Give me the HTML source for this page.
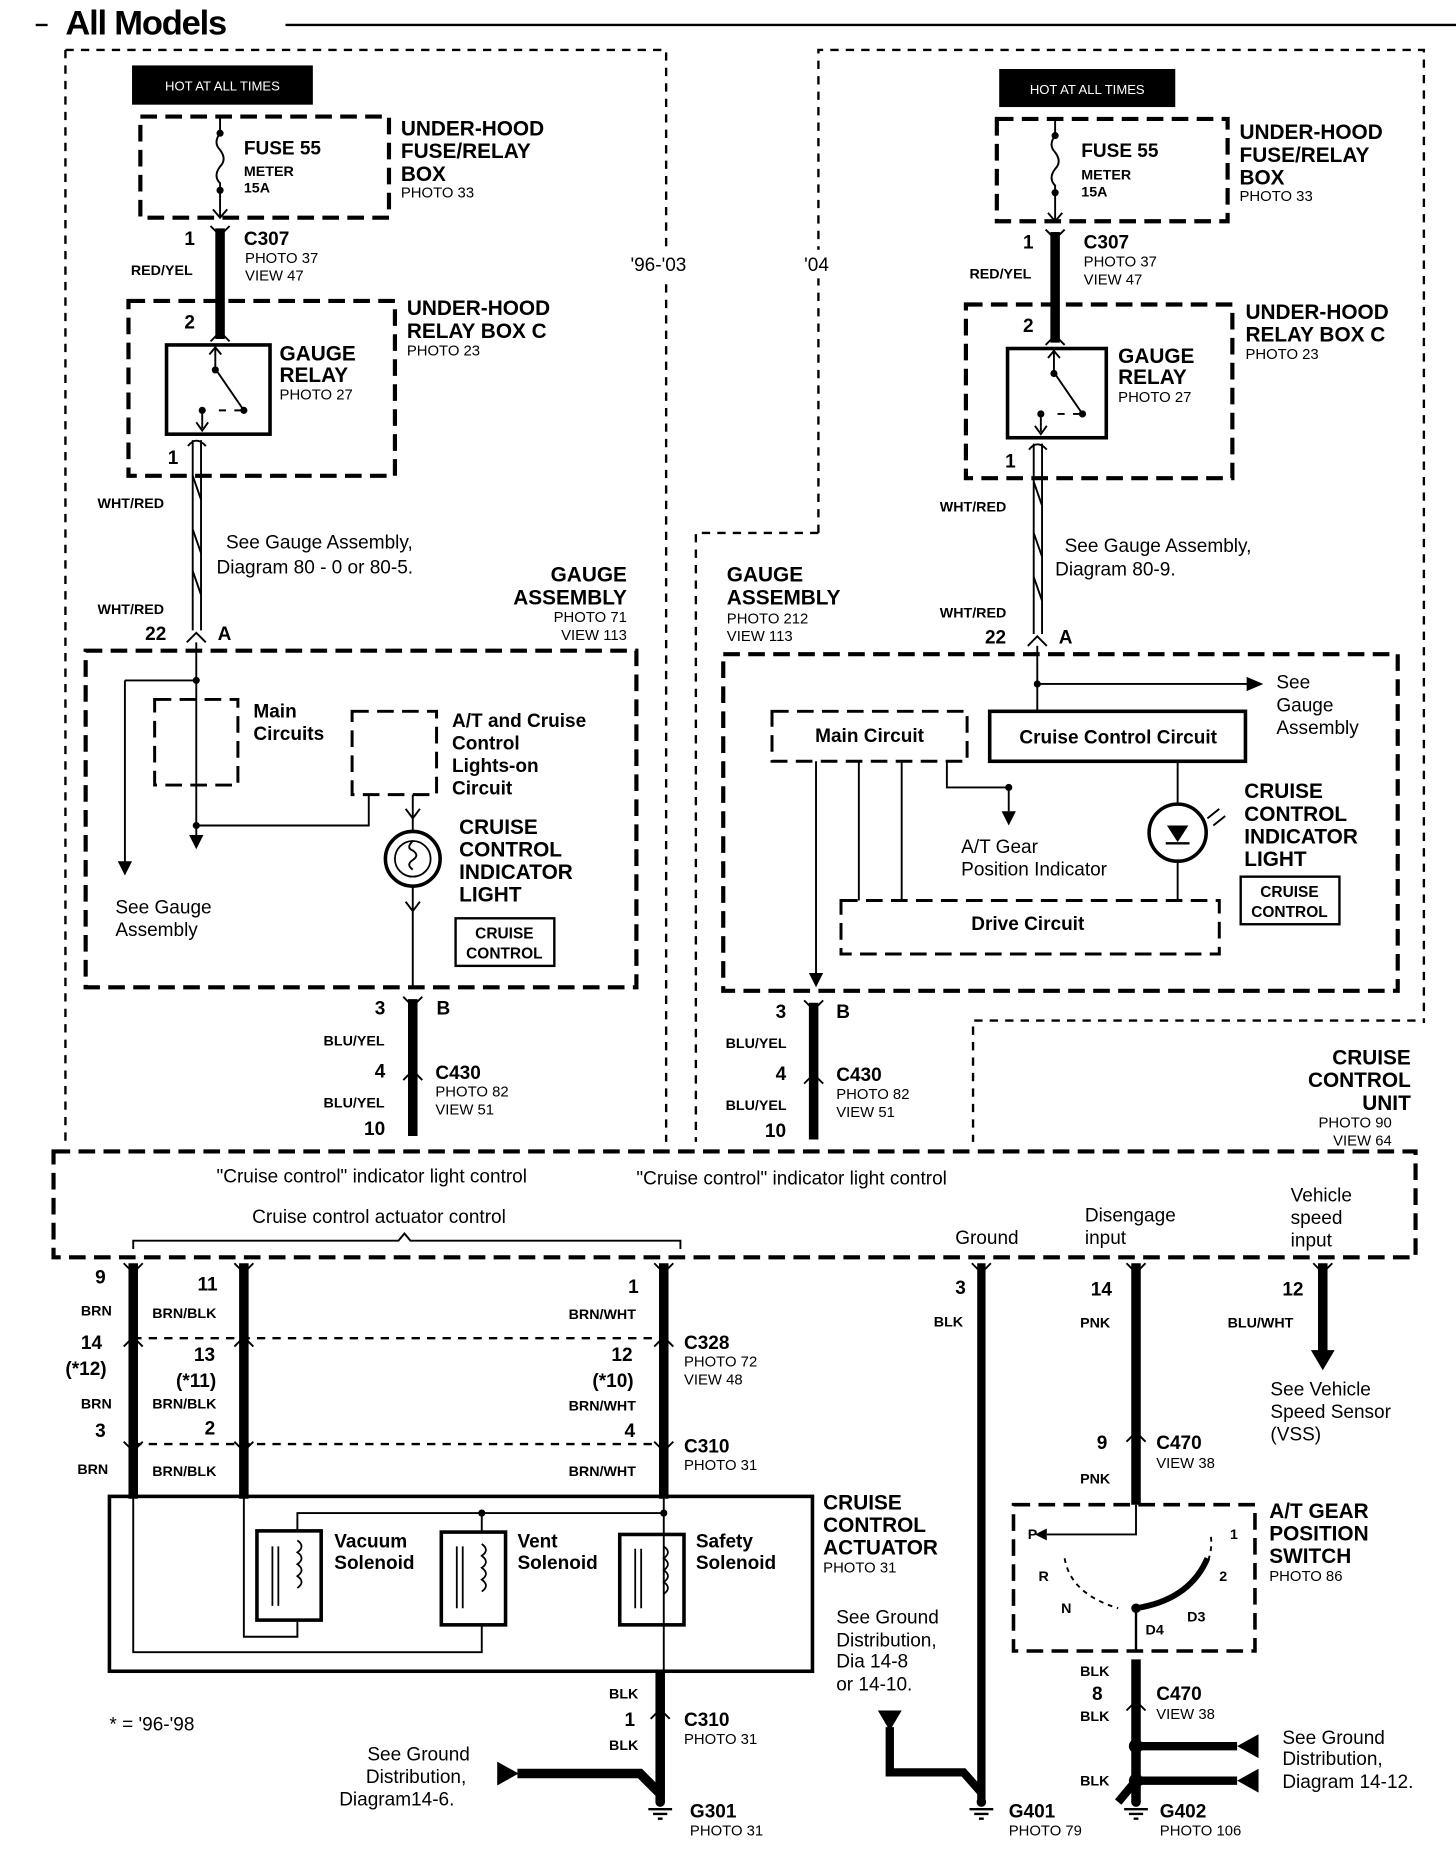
<!DOCTYPE html>
<html><head><meta charset="utf-8"><style>
html,body{margin:0;padding:0;background:#fff}
svg{display:block}
text{font-family:"Liberation Sans",Arial,sans-serif;fill:#000}
.b{font-weight:bold}
.s{font-size:12.5px}
.m{font-size:16px}
.l{font-size:17.5px;font-weight:bold}
.w{font-size:12px;font-weight:bold}
.n{font-size:16px;font-weight:bold}
.d{fill:none;stroke:#000;stroke-width:2;stroke-dasharray:7 6}
.D{fill:none;stroke:#000;stroke-width:3.5;stroke-dasharray:14 7}
.t{fill:none;stroke:#000;stroke-width:1.6}
.W{fill:none;stroke:#000;stroke-width:8}
</style></head><body>
<svg width="1456" height="1858" viewBox="0 0 1224 1562" preserveAspectRatio="none" xmlns="http://www.w3.org/2000/svg">
<rect width="1224" height="1562" fill="#fff"/>
<line x1="30" y1="21" x2="40" y2="21" stroke="#000" stroke-width="2"/>
<text x="55" y="29" style="font-size:29px;font-weight:bold;letter-spacing:-1px">All Models</text>
<line x1="240" y1="21" x2="1224" y2="21" stroke="#000" stroke-width="2"/>

<path class="d" d="M55 42 H560 V960 M55 42 V960"/>
<path class="d" d="M688 448 V42 H1197 V860 M688 448 H585 V960 M1190 858 H818 V960"/>
<rect x="528" y="210" width="62" height="24" fill="#fff"/>
<rect x="674" y="210" width="30" height="24" fill="#fff"/>
<text x="530" y="228" class="m">'96-'03</text>
<text x="676" y="228" class="m">'04</text>

<rect x="111" y="55" width="152" height="33" fill="#000"/>
<text x="187" y="76" text-anchor="middle" style="font-size:11px;fill:#fff">HOT AT ALL TIMES</text>
<rect class="D" x="118" y="98" width="209" height="85"/>
<path class="t" d="M185 98 V112 q-6 8 0 14 q6 8 0 14 q-6 8 0 14 V183"/>
<circle cx="185" cy="112" r="3"/><circle cx="185" cy="160" r="3"/>
<path class="t" d="M179 176 L185 183 L191 176"/>
<text x="205" y="130" class="n">FUSE 55</text>
<text x="205" y="148" class="w">METER</text><text x="205" y="162" class="w">15A</text>
<text x="337" y="114" class="l">UNDER-HOOD</text><text x="337" y="133" class="l">FUSE/RELAY</text><text x="337" y="152" class="l">BOX</text>
<text x="337" y="166" class="s">PHOTO 33</text>
<line class="W" x1="185" y1="192" x2="185" y2="285"/>
<path class="t" stroke-width="3" d="M177 190 L185 198 L193 190 M177 287 L185 279 L193 287"/>
<text x="155" y="206" class="n">1</text>
<text x="205" y="206" class="n">C307</text><text x="206" y="221" class="s">PHOTO 37</text><text x="206" y="236" class="s">VIEW 47</text>
<text x="110" y="231" class="w">RED/YEL</text>
<rect class="D" x="108" y="253" width="224" height="147"/>
<text x="155" y="276" class="n">2</text>
<text x="342" y="265" class="l">UNDER-HOOD</text><text x="342" y="284" class="l">RELAY BOX C</text><text x="342" y="299" class="s">PHOTO 23</text>
<rect x="140" y="290" width="87" height="75" fill="none" stroke="#000" stroke-width="3"/>
<path class="t" stroke-width="2.5" d="M181 290 V310 L205 345 M176 298 L181 292 L186 298 M197 345 H205 M190 345 H184 M170 345 V360 M165 355 L170 362 L175 355"/>
<circle cx="181" cy="311" r="3"/><circle cx="205" cy="345" r="3"/><circle cx="170" cy="345" r="3"/>
<text x="235" y="303" class="l">GAUGE</text><text x="235" y="321" class="l">RELAY</text><text x="235" y="336" class="s">PHOTO 27</text>
<text x="141" y="390" class="n">1</text>
<path class="t" stroke-width="2" d="M162 370 V530 M169 370 V530 M158 375 Q165 366 173 375"/>
<path class="t" stroke-width="1.5" d="M162 400 L169 420 M162 445 L169 465 M162 480 L169 500"/>
<text x="82" y="427" class="w">WHT/RED</text><text x="82" y="516" class="w">WHT/RED</text>
<text x="190" y="461" class="m">See Gauge Assembly,</text>
<text x="182" y="482" class="m">Diagram 80 - 0 or 80-5.</text>
<text x="527" y="489" class="l" text-anchor="end">GAUGE</text><text x="527" y="508" class="l" text-anchor="end">ASSEMBLY</text>
<text x="527" y="523" class="s" text-anchor="end">PHOTO 71</text><text x="527" y="538" class="s" text-anchor="end">VIEW 113</text>
<text x="122" y="538" class="n">22</text><text x="183" y="538" class="n">A</text>
<path class="t" stroke-width="2.5" d="M157 540 L165 532 L173 540"/>
<rect class="D" x="72" y="547" width="463" height="283"/>
<rect class="D" x="130" y="588" width="70" height="72" style="stroke-width:2.5"/>
<text x="213" y="603" class="n">Main</text><text x="213" y="622" class="n">Circuits</text>
<rect class="D" x="296" y="598" width="71" height="70" style="stroke-width:2.5"/>
<text x="380" y="611" class="n">A/T and Cruise</text><text x="380" y="630" class="n">Control</text><text x="380" y="649" class="n">Lights-on</text><text x="380" y="668" class="n">Circuit</text>
<path class="t" d="M165 540 V705 M105 572 H165 M105 572 V728 M165 694 H310 V668"/>
<circle cx="165" cy="572" r="3"/><circle cx="165" cy="694" r="3"/>
<path d="M99 724 L105 736 L111 724Z M159 702 L165 714 L171 702Z"/>
<text x="97" y="768" class="m">See Gauge</text><text x="97" y="787" class="m">Assembly</text>
<path class="t" d="M347 668 V698 M347 746 V830 M341 680 L347 688 L353 680 M341 758 L347 766 L353 758"/>
<circle cx="347" cy="722" r="23" fill="none" stroke="#000" stroke-width="3"/>
<circle cx="347" cy="722" r="15" fill="none" stroke="#000" stroke-width="1.5"/>
<path class="t" d="M347 707 q-6 6 0 8 q6 4 0 8 q-6 4 0 8"/>
<text x="386" y="701" class="l">CRUISE</text><text x="386" y="720" class="l">CONTROL</text><text x="386" y="739" class="l">INDICATOR</text><text x="386" y="758" class="l">LIGHT</text>
<rect x="383" y="772" width="83" height="40" fill="none" stroke="#000" stroke-width="2"/>
<text x="424" y="789" text-anchor="middle" style="font-size:13px;font-weight:bold">CRUISE</text>
<text x="424" y="806" text-anchor="middle" style="font-size:13px;font-weight:bold">CONTROL</text>
<text x="315" y="853" class="n">3</text><text x="367" y="853" class="n">B</text>
<line class="W" x1="347" y1="840" x2="347" y2="955"/>
<path class="t" stroke-width="3" d="M339 838 L347 846 L355 838 M339 908 L347 900 L355 908"/>
<text x="272" y="879" class="w">BLU/YEL</text>
<text x="315" y="906" class="n">4</text>
<text x="366" y="907" class="n">C430</text><text x="366" y="922" class="s">PHOTO 82</text><text x="366" y="937" class="s">VIEW 51</text>
<text x="272" y="931" class="w">BLU/YEL</text><text x="306" y="954" class="n">10</text>

<rect x="840" y="58" width="148" height="32" fill="#000"/>
<text x="914" y="79" text-anchor="middle" style="font-size:11px;fill:#fff">HOT AT ALL TIMES</text>
<rect class="D" x="838" y="100" width="194" height="86"/>
<path class="t" d="M887 100 V114 q-6 8 0 14 q6 8 0 14 q-6 8 0 14 V186"/>
<circle cx="887" cy="114" r="3"/><circle cx="887" cy="162" r="3"/>
<path class="t" d="M881 179 L887 186 L893 179"/>
<text x="909" y="132" class="n">FUSE 55</text>
<text x="909" y="151" class="w">METER</text><text x="909" y="165" class="w">15A</text>
<text x="1042" y="117" class="l">UNDER-HOOD</text><text x="1042" y="136" class="l">FUSE/RELAY</text><text x="1042" y="155" class="l">BOX</text>
<text x="1042" y="169" class="s">PHOTO 33</text>
<line class="W" x1="887" y1="195" x2="887" y2="288"/>
<path class="t" stroke-width="3" d="M879 193 L887 201 L895 193 M879 290 L887 282 L895 290"/>
<text x="860" y="209" class="n">1</text>
<text x="911" y="209" class="n">C307</text><text x="911" y="224" class="s">PHOTO 37</text><text x="911" y="239" class="s">VIEW 47</text>
<text x="815" y="234" class="w">RED/YEL</text>
<rect class="D" x="812" y="256" width="224" height="146"/>
<text x="860" y="279" class="n">2</text>
<text x="1047" y="268" class="l">UNDER-HOOD</text><text x="1047" y="287" class="l">RELAY BOX C</text><text x="1047" y="302" class="s">PHOTO 23</text>
<rect x="847" y="293" width="83" height="75" fill="none" stroke="#000" stroke-width="3"/>
<path class="t" stroke-width="2.5" d="M886 293 V313 L910 348 M881 301 L886 295 L891 301 M902 348 H910 M895 348 H889 M875 348 V363 M870 358 L875 365 L880 358"/>
<circle cx="886" cy="314" r="3"/><circle cx="910" cy="348" r="3"/><circle cx="875" cy="348" r="3"/>
<text x="940" y="305" class="l">GAUGE</text><text x="940" y="323" class="l">RELAY</text><text x="940" y="338" class="s">PHOTO 27</text>
<text x="845" y="393" class="n">1</text>
<path class="t" stroke-width="2" d="M869 373 V533 M876 373 V533 M865 378 Q872 369 880 378"/>
<path class="t" stroke-width="1.5" d="M869 405 L876 425 M869 448 L876 468 M869 485 L876 505"/>
<text x="790" y="430" class="w">WHT/RED</text><text x="790" y="519" class="w">WHT/RED</text>
<text x="895" y="464" class="m">See Gauge Assembly,</text>
<text x="887" y="484" class="m">Diagram 80-9.</text>
<text x="611" y="489" class="l">GAUGE</text><text x="611" y="508" class="l">ASSEMBLY</text>
<text x="611" y="524" class="s">PHOTO 212</text><text x="611" y="539" class="s">VIEW 113</text>
<text x="828" y="541" class="n">22</text><text x="890" y="541" class="n">A</text>
<path class="t" stroke-width="2.5" d="M864 543 L872 535 L880 543"/>
<rect class="D" x="608" y="550" width="567" height="283"/>
<rect class="D" x="649" y="598" width="164" height="42" style="stroke-width:2.5"/>
<text x="731" y="624" class="n" text-anchor="middle">Main Circuit</text>
<rect x="832" y="598" width="215" height="42" fill="none" stroke="#000" stroke-width="3"/>
<text x="940" y="625" class="n" text-anchor="middle">Cruise Control Circuit</text>
<path class="t" d="M872 543 V598 M872 575 H1050"/>
<circle cx="872" cy="575" r="3"/>
<path d="M1048 569 L1062 575 L1048 581Z"/>
<text x="1073" y="579" class="m">See</text><text x="1073" y="598" class="m">Gauge</text><text x="1073" y="617" class="m">Assembly</text>
<path class="t" d="M796 640 V662 H848 V682"/>
<circle cx="848" cy="662" r="3"/>
<path d="M842 682 L848 694 L854 682Z"/>
<text x="808" y="717" class="m">A/T Gear</text><text x="808" y="736" class="m">Position Indicator</text>
<path class="t" d="M990 640 V675 M990 725 V757"/>
<circle cx="990" cy="700" r="24" fill="none" stroke="#000" stroke-width="3"/>
<path d="M981 694 H999 L990 708Z"/><line x1="980" y1="709" x2="1000" y2="709" stroke="#000" stroke-width="2"/>
<path class="t" d="M1015 688 L1025 680 M1020 694 L1030 686"/>
<text x="1046" y="671" class="l">CRUISE</text><text x="1046" y="690" class="l">CONTROL</text><text x="1046" y="709" class="l">INDICATOR</text><text x="1046" y="728" class="l">LIGHT</text>
<rect x="1043" y="737" width="83" height="40" fill="none" stroke="#000" stroke-width="2"/>
<text x="1084" y="754" text-anchor="middle" style="font-size:13px;font-weight:bold">CRUISE</text>
<text x="1084" y="771" text-anchor="middle" style="font-size:13px;font-weight:bold">CONTROL</text>
<rect class="D" x="707" y="757" width="318" height="45" style="stroke-width:2.5"/>
<text x="864" y="782" class="n" text-anchor="middle">Drive Circuit</text>
<path class="t" d="M686 640 V820 M722 640 V757 M758 640 V757"/>
<path d="M680 818 L686 830 L692 818Z"/>
<text x="652" y="856" class="n">3</text><text x="703" y="856" class="n">B</text>
<line class="W" x1="684" y1="843" x2="684" y2="958"/>
<path class="t" stroke-width="3" d="M676 841 L684 849 L692 841 M676 911 L684 903 L692 911"/>
<text x="610" y="881" class="w">BLU/YEL</text>
<text x="652" y="908" class="n">4</text>
<text x="703" y="909" class="n">C430</text><text x="703" y="924" class="s">PHOTO 82</text><text x="703" y="939" class="s">VIEW 51</text>
<text x="610" y="933" class="w">BLU/YEL</text><text x="643" y="956" class="n">10</text>
<text x="1186" y="895" class="l" text-anchor="end">CRUISE</text><text x="1186" y="914" class="l" text-anchor="end">CONTROL</text><text x="1186" y="933" class="l" text-anchor="end">UNIT</text>
<text x="1170" y="948" class="s" text-anchor="end">PHOTO 90</text><text x="1170" y="963" class="s" text-anchor="end">VIEW 64</text>

<rect class="D" x="45" y="968" width="1145" height="89"/>
<text x="182" y="994" class="m">"Cruise control" indicator light control</text>
<text x="535" y="996" class="m">"Cruise control" indicator light control</text>
<text x="212" y="1028" class="m">Cruise control actuator control</text>
<path class="t" stroke-width="2" d="M112 1050 V1043 H335 L340 1037 L345 1043 H572 V1050"/>
<text x="803" y="1046" class="m">Ground</text>
<text x="912" y="1027" class="m">Disengage</text><text x="912" y="1046" class="m">input</text>
<text x="1085" y="1010" class="m">Vehicle</text><text x="1085" y="1029" class="m">speed</text><text x="1085" y="1048" class="m">input</text>

<g>
<line class="W" x1="112" y1="1062" x2="112" y2="1260"/>
<line class="W" x1="205" y1="1062" x2="205" y2="1260"/>
<line class="W" x1="558" y1="1062" x2="558" y2="1260"/>
<path class="t" stroke-width="3" d="M104 1062 L112 1070 L120 1062 M197 1062 L205 1070 L213 1062 M550 1062 L558 1070 L566 1062
M104 1132 L112 1124 L120 1132 M197 1132 L205 1124 L213 1132 M550 1132 L558 1124 L566 1132
M104 1212 L112 1220 L120 1212 M197 1212 L205 1220 L213 1212 M550 1212 L558 1220 L566 1212"/>
</g>
<path class="d" d="M112 1125 H558 M112 1214 H558"/>
<text x="80" y="1079" class="n">9</text><text x="166" y="1085" class="n">11</text><text x="528" y="1087" class="n">1</text>
<text x="68" y="1106" class="w">BRN</text><text x="128" y="1108" class="w">BRN/BLK</text><text x="478" y="1109" class="w">BRN/WHT</text>
<text x="68" y="1134" class="n">14</text><text x="55" y="1156" class="n">(*12)</text>
<text x="163" y="1144" class="n">13</text><text x="148" y="1166" class="n">(*11)</text>
<text x="514" y="1144" class="n">12</text><text x="498" y="1166" class="n">(*10)</text>
<text x="575" y="1134" class="n">C328</text><text x="575" y="1149" class="s">PHOTO 72</text><text x="575" y="1164" class="s">VIEW 48</text>
<text x="68" y="1184" class="w">BRN</text><text x="128" y="1184" class="w">BRN/BLK</text><text x="478" y="1186" class="w">BRN/WHT</text>
<text x="80" y="1208" class="n">3</text><text x="172" y="1206" class="n">2</text><text x="525" y="1208" class="n">4</text>
<text x="575" y="1221" class="n">C310</text><text x="575" y="1236" class="s">PHOTO 31</text>
<text x="65" y="1239" class="w">BRN</text><text x="128" y="1241" class="w">BRN/BLK</text><text x="478" y="1241" class="w">BRN/WHT</text>
<rect x="92" y="1258" width="591" height="147" fill="none" stroke="#000" stroke-width="3"/>
<path class="t" stroke-width="1.8" d="M112 1258 V1389 H405 V1366 M205 1258 V1376 H250 V1362 M250 1287 V1272 H558 M405 1272 V1288 M558 1258 V1405 M558 1405 V1510"/>
<circle cx="405" cy="1272" r="3"/><circle cx="558" cy="1272" r="3"/>
<g fill="none" stroke="#000">
<rect x="216" y="1287" width="54" height="75" stroke-width="3"/>
<rect x="371" y="1288" width="54" height="78" stroke-width="3"/>
<rect x="521" y="1290" width="54" height="76" stroke-width="3"/>
<path stroke-width="1.5" d="M229 1300 V1350 M234 1300 V1350 M384 1300 V1352 M389 1300 V1352 M534 1302 V1352 M539 1302 V1352"/>
<path stroke-width="1.5" d="M250 1295 q7 5 0 10 q7 5 0 10 q7 5 0 10 q7 5 0 10 M405 1298 q7 5 0 10 q7 5 0 10 q7 5 0 10 q7 5 0 10 M558 1300 q7 5 0 10 q7 5 0 10 q7 5 0 10 q7 5 0 10"/>
</g>
<text x="281" y="1301" class="n">Vacuum</text><text x="281" y="1319" class="n">Solenoid</text>
<text x="435" y="1301" class="n">Vent</text><text x="435" y="1319" class="n">Solenoid</text>
<text x="585" y="1301" class="n">Safety</text><text x="585" y="1319" class="n">Solenoid</text>
<text x="692" y="1269" class="l">CRUISE</text><text x="692" y="1288" class="l">CONTROL</text><text x="692" y="1307" class="l">ACTUATOR</text><text x="692" y="1322" class="s">PHOTO 31</text>
<text x="92" y="1455" class="m">* = '96-'98</text>
<line class="W" x1="555" y1="1405" x2="555" y2="1515"/>
<path class="t" stroke-width="3" d="M547 1445 L555 1437 L563 1445"/>
<text x="512" y="1428" class="w">BLK</text><text x="525" y="1451" class="n">1</text>
<text x="575" y="1451" class="n">C310</text><text x="575" y="1466" class="s">PHOTO 31</text>
<text x="512" y="1471" class="w">BLK</text>
<path class="W" d="M435 1491 H538 L555 1508"/>
<path d="M418 1481 L436 1491 L418 1501Z"/>
<text x="395" y="1480" class="m" text-anchor="end">See Ground</text><text x="392" y="1499" class="m" text-anchor="end">Distribution,</text><text x="382" y="1518" class="m" text-anchor="end">Diagram14-6.</text>

<g stroke="#000" stroke-width="2">
<path d="M545 1521 H565 M549 1525 H561 M553 1529 H557"/>
<path d="M815 1521 H835 M819 1525 H831 M823 1529 H827"/>
<path d="M945 1521 H965 M949 1525 H961 M953 1529 H957"/>
</g>
<circle cx="555" cy="1515" r="4"/><circle cx="825" cy="1515" r="4"/><circle cx="955" cy="1515" r="4"/>
<text x="580" y="1528" class="n">G301</text><text x="580" y="1543" class="s">PHOTO 31</text>
<text x="848" y="1528" class="n">G401</text><text x="848" y="1543" class="s">PHOTO 79</text>
<text x="975" y="1528" class="n">G402</text><text x="975" y="1543" class="s">PHOTO 106</text>

<line class="W" x1="825" y1="1062" x2="825" y2="1515" style="stroke-width:7"/>
<path class="t" stroke-width="3" d="M817 1062 L825 1070 L833 1062"/>
<text x="803" y="1088" class="n">3</text><text x="785" y="1115" class="w">BLK</text>
<text x="703" y="1365" class="m">See Ground</text><text x="703" y="1384" class="m">Distribution,</text><text x="703" y="1402" class="m">Dia 14-8</text><text x="703" y="1421" class="m">or 14-10.</text>
<path d="M738 1438 H758 L748 1455Z"/>
<path class="W" d="M748 1452 V1490 H810 L825 1507" style="stroke-width:7"/>

<line class="W" x1="955" y1="1062" x2="955" y2="1265"/>
<path class="t" stroke-width="3" d="M947 1062 L955 1070 L963 1062 M947 1212 L955 1204 L963 1212"/>
<text x="917" y="1089" class="n">14</text><text x="908" y="1116" class="w">PNK</text>
<text x="922" y="1218" class="n">9</text><text x="972" y="1218" class="n">C470</text><text x="972" y="1234" class="s">VIEW 38</text>
<text x="908" y="1247" class="w">PNK</text>
<rect class="D" x="852" y="1265" width="203" height="123" style="stroke-width:3"/>
<path class="t" stroke-width="1.6" d="M955 1265 V1290 H880"/>
<path d="M880 1285 L870 1290 L880 1295Z"/>
<path class="t" stroke-width="1.5" stroke-dasharray="4 4" d="M1018 1292 Q1020 1310 1008 1325 M895 1310 Q900 1340 940 1352"/>
<path fill="none" stroke="#000" stroke-width="5" d="M955 1352 Q1000 1345 1015 1310"/>
<circle cx="955" cy="1352" r="4"/>
<line x1="955" y1="1355" x2="955" y2="1388" stroke="#000" stroke-width="2"/>
<text x="864" y="1294" class="w">P</text><text x="1034" y="1294" class="w">1</text>
<text x="873" y="1329" class="w">R</text><text x="1025" y="1329" class="w">2</text>
<text x="892" y="1356" class="w">N</text><text x="998" y="1363" class="w">D3</text><text x="963" y="1374" class="w">D4</text>
<text x="1067" y="1276" class="l">A/T GEAR</text><text x="1067" y="1295" class="l">POSITION</text><text x="1067" y="1314" class="l">SWITCH</text><text x="1067" y="1329" class="s">PHOTO 86</text>
<line class="W" x1="955" y1="1395" x2="955" y2="1515"/>
<path class="t" stroke-width="3" d="M947 1438 L955 1430 L963 1438"/>
<text x="908" y="1409" class="w">BLK</text><text x="918" y="1429" class="n">8</text>
<text x="972" y="1429" class="n">C470</text><text x="972" y="1445" class="s">VIEW 38</text>
<text x="908" y="1447" class="w">BLK</text><text x="908" y="1501" class="w">BLK</text>
<circle cx="955" cy="1468" r="6"/><circle cx="955" cy="1497" r="6"/>
<path class="W" d="M955 1468 H1040 M955 1497 H1040 M955 1497 L940 1515" style="stroke-width:7"/>
<path d="M1058 1458 L1040 1468 L1058 1478Z M1058 1487 L1040 1497 L1058 1507Z"/>
<text x="1078" y="1466" class="m">See Ground</text><text x="1078" y="1484" class="m">Distribution,</text><text x="1078" y="1503" class="m">Diagram 14-12.</text>

<line class="W" x1="1112" y1="1062" x2="1112" y2="1137"/>
<path class="t" stroke-width="3" d="M1104 1062 L1112 1070 L1120 1062"/>
<path d="M1102 1135 H1122 L1112 1152Z"/>
<text x="1078" y="1089" class="n">12</text><text x="1032" y="1116" class="w">BLU/WHT</text>
<text x="1068" y="1173" class="m">See Vehicle</text><text x="1068" y="1192" class="m">Speed Sensor</text><text x="1068" y="1211" class="m">(VSS)</text>
</svg>
</body></html>
